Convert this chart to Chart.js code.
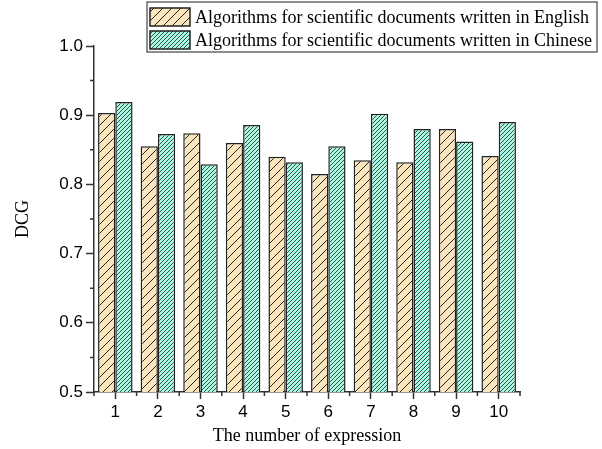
<!DOCTYPE html>
<html lang="en">
  <head>
    <meta charset="UTF-8" />
    <title>DCG by number of expression</title>
    <script src="https://cdn.jsdelivr.net/npm/chart.js"></script>
    <style>
      html, body { margin: 0; padding: 0; background: #fff; }
    </style>
  </head>
  <body>
    <canvas id="dcgChart" width="602" height="449"></canvas>

    <script>
      const categories = ["1", "2", "3", "4", "5", "6", "7", "8", "9", "10"];
      const englishDcg = [0.903, 0.855, 0.874, 0.860, 0.840, 0.815, 0.835, 0.832, 0.880, 0.841];
      const chineseDcg = [0.919, 0.873, 0.829, 0.886, 0.832, 0.855, 0.902, 0.880, 0.862, 0.890];
      const minorY = [0.55, 0.65, 0.75, 0.85, 0.95];

      // diagonal hatch tile
      function hatch(bg, size, width) {
        const c = document.createElement("canvas");
        c.width = size;
        c.height = size;
        const g = c.getContext("2d");
        g.fillStyle = bg;
        g.fillRect(0, 0, size, size);
        g.strokeStyle = "#222";
        g.lineWidth = width;
        g.beginPath();
        g.moveTo(0, size);
        g.lineTo(size, 0);
        g.moveTo(-1, 1);
        g.lineTo(1, -1);
        g.moveTo(size - 1, size + 1);
        g.lineTo(size + 1, size - 1);
        g.stroke();
        return g.createPattern(c, "repeat");
      }

      const ctx = document.getElementById("dcgChart").getContext("2d");
      const engFill = hatch("#FBE5BD", 9, 1);
      const chnFill = hatch("#A6FAE2", 4, 0.8);
      const serif = "'Liberation Serif', 'Times New Roman', serif";
      const sans = "'Liberation Sans', Arial, sans-serif";

      const extras = {
        id: "extras",
        afterDraw(chart) {
          const c = chart.ctx;
          const x = chart.scales.x;
          const y = chart.scales.y;
          const area = chart.chartArea;
          c.save();
          c.strokeStyle = "#333";
          c.lineWidth = 1.5;
          c.beginPath();
          minorY.forEach((v) => {
            const py = y.getPixelForValue(v);
            c.moveTo(area.left - 4, py);
            c.lineTo(area.left, py);
          });
          for (let i = -0.5; i < categories.length; i += 1) {
            const px = x.getPixelForValue(i);
            c.moveTo(px, area.bottom);
            c.lineTo(px, area.bottom + 4);
          }
          c.stroke();

          // legend box
          const lx = 147, ly = 2, lw = 450, lh = 50;
          c.fillStyle = "#fff";
          c.fillRect(lx, ly, lw, lh);
          c.lineWidth = 1.2;
          c.strokeStyle = "#444";
          c.strokeRect(lx, ly, lw, lh);
          c.font = "18px " + serif;
          c.textBaseline = "middle";
          chart.data.datasets.forEach((ds, i) => {
            const sy = ly + 6 + i * 23;
            c.fillStyle = ds.backgroundColor;
            c.fillRect(lx + 3, sy, 40, 18);
            c.lineWidth = 1.5;
            c.strokeStyle = "#222";
            c.strokeRect(lx + 3, sy, 40, 18);
            c.fillStyle = "#000";
            c.fillText(ds.label, lx + 48, sy + 10);
          });
          c.restore();
        },
      };

      new Chart(ctx, {
        type: "bar",
        data: {
          labels: categories,
          datasets: [
            {
              label: "Algorithms for scientific documents written in English",
              data: englishDcg,
              backgroundColor: engFill,
              borderColor: "#222",
              borderWidth: 1.5,
              barPercentage: 1,
              categoryPercentage: 0.81,
            },
            {
              label: "Algorithms for scientific documents written in Chinese",
              data: chineseDcg,
              backgroundColor: chnFill,
              borderColor: "#222",
              borderWidth: 1.5,
              barPercentage: 1,
              categoryPercentage: 0.81,
            },
          ],
        },
        options: {
          responsive: false,
          animation: false,
          layout: { padding: { top: 46, right: 82, left: 0, bottom: 0 } },
          plugins: {
            legend: { display: false },
            tooltip: { enabled: false },
          },
          scales: {
            x: {
              afterFit: (s) => { s.height = 57; },
              grid: { offset: false, drawOnChartArea: false, tickLength: 7, tickColor: "#333", tickWidth: 1.5 },
              border: { color: "#333", width: 1.5 },
              ticks: { color: "#000", padding: 3, font: { family: sans, size: 17 } },
              title: {
                display: true,
                text: "The number of expression",
                color: "#000",
                padding: { top: 0, bottom: 2 },
                font: { family: serif, size: 18 },
              },
            },
            y: {
              min: 0.5,
              max: 1.0,
              afterFit: (s) => { s.width = 94; },
              grid: { drawOnChartArea: false, tickLength: 8, tickColor: "#333", tickWidth: 1.5 },
              border: { color: "#333", width: 1.5 },
              ticks: {
                stepSize: 0.1,
                padding: 3,
                color: "#000",
                font: { family: sans, size: 17 },
                callback: (v) => v.toFixed(1),
              },
              title: {
                display: true,
                text: "DCG",
                color: "#000",
                padding: { top: 12, bottom: 0 },
                font: { family: serif, size: 18 },
              },
            },
          },
        },
        plugins: [extras],
      });
    </script>
  </body>
</html>
